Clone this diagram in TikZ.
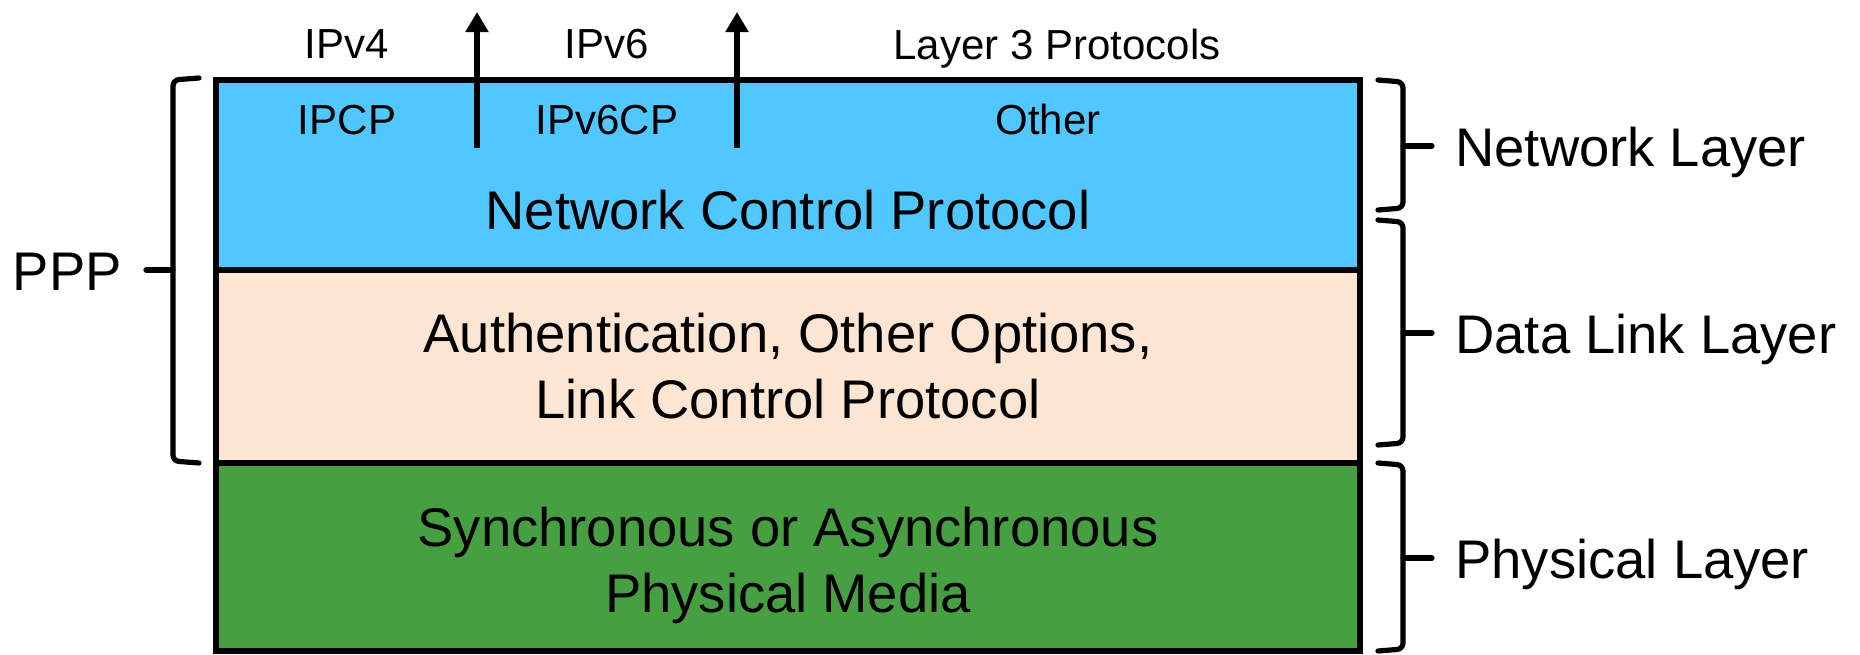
\documentclass[tikz,border=0pt]{standalone}
\usepackage{fontspec}
\setmainfont{Liberation Sans}
\usetikzlibrary{arrows.meta}
\definecolor{ncpblue}{RGB}{80,200,255}
\definecolor{lcppeach}{RGB}{253,229,212}
\definecolor{phygreen}{RGB}{70,160,66}
\begin{document}
\begin{tikzpicture}[x=0.5pt,y=-0.5pt,
  layerbox/.style={draw=black, line width=3pt, inner sep=0pt, outer sep=0pt, minimum width=572pt},
  bigtext/.style={font=\fontsize{27.2pt}{33pt}\selectfont, inner sep=0pt, align=center},
  smalltext/.style={font=\fontsize{21pt}{25pt}\selectfont, inner sep=0pt},
  uparrow/.style={line width=3pt, -{Triangle[width=11pt,length=10pt]}},
  bracket/.style={line width=2.6pt, rounded corners=3pt, line cap=round}]
\useasboundingbox (0,0) rectangle (1860,654);

% protocol stack
\node[layerbox, fill=ncpblue, minimum height=95pt] (ncp) at (788,175) {};
\node[layerbox, fill=lcppeach, minimum height=96.5pt] (lcp) at (788,366.5) {};
\node[layerbox, fill=phygreen, minimum height=94pt] (phy) at (788,557) {};

% upward hand-off to layer 3
\coordinate (v4base) at (477,148);
\coordinate (v4top) at (477,12);
\coordinate (v6base) at (737,148);
\coordinate (v6top) at (737,12);
\draw[uparrow] (v4base) -- (v4top);
\draw[uparrow] (v6base) -- (v6top);

% labels above and inside the NCP layer
\node[smalltext, anchor=base] (ipv4) at (347,58) {IPv4};
\node[smalltext, anchor=base] (ipcp) at (347,134) {IPCP};
\node[smalltext, anchor=base] (ipv6) at (607,58) {IPv6};
\node[smalltext, anchor=base] (ipv6cp) at (607,134) {IPv6CP};
\node[smalltext, anchor=base] (l3) at (1057,59) {Layer 3 Protocols};
\node[smalltext, anchor=base] (other) at (1048,134) {Other};

% layer contents
\node[bigtext, anchor=base] (ncptext) at (788,229) {Network Control Protocol};
\node[bigtext] (lcptext) at (788,366.5) {Authentication, Other Options,\\Link Control Protocol};
\node[bigtext] (phytext) at (788,565) {Synchronous or Asynchronous\\Physical Media};

% side labels
\node[bigtext, anchor=base east] (ppp) at (122,290) {PPP};
\node[bigtext, anchor=base west] (netl) at (1455,166) {Network Layer};
\node[bigtext, anchor=base west] (dll) at (1455,353) {Data Link Layer};
\node[bigtext, anchor=base west] (phyl) at (1455,578) {Physical Layer};

% brackets
\draw[bracket] (199,78) -- (173,80) -- (173,461) -- (199,463);
\draw[bracket] (173,270) -- (146,270);

\draw[bracket] (1378,80) -- (1403,82) -- (1403,208) -- (1378,210);
\draw[bracket] (1403,146) -- (1432,146);
\draw[bracket] (1378,220) -- (1403,222) -- (1403,443) -- (1378,445);
\draw[bracket] (1403,333) -- (1432,333);
\draw[bracket] (1378,463) -- (1403,465) -- (1403,649) -- (1378,651);
\draw[bracket] (1403,558) -- (1432,558);
\end{tikzpicture}
\end{document}
